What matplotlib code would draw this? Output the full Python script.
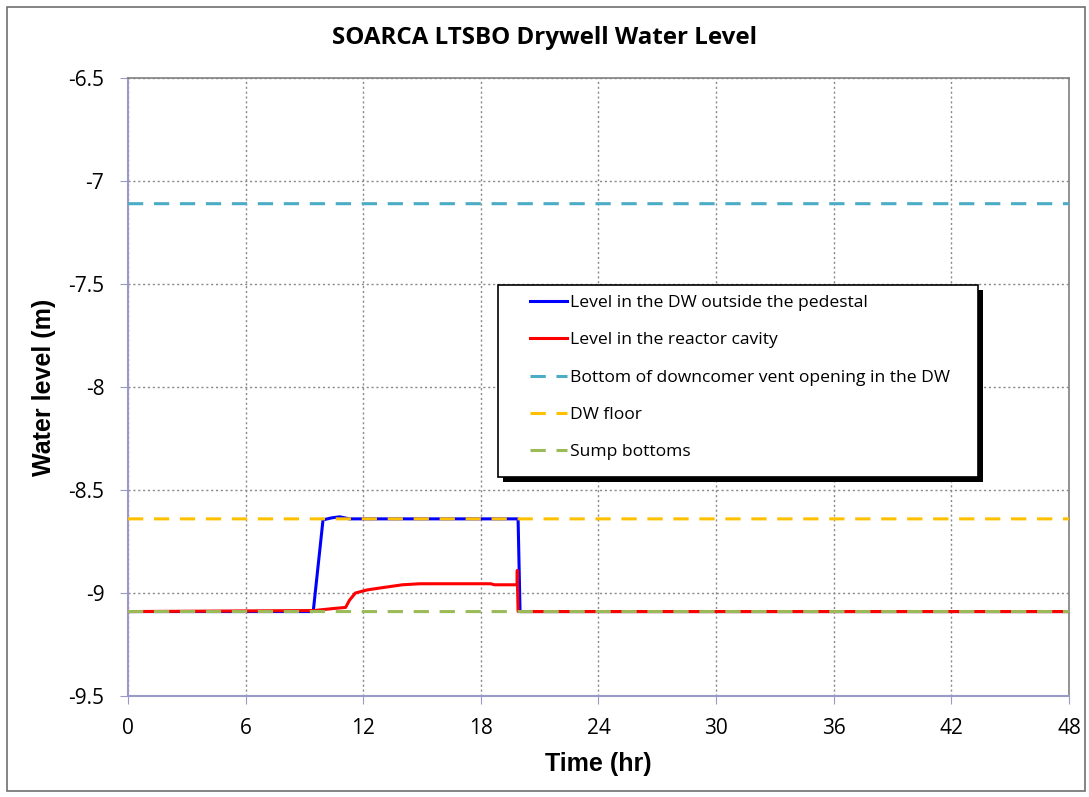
import matplotlib.pyplot as plt
from matplotlib.patches import Rectangle

# ====== DADOS ======
t_dw = [0, 9.45, 9.95, 10.4, 10.8, 11.3, 19.9, 20.0, 48]
lvl_dw = [-9.09, -9.09, -8.645, -8.635, -8.63, -8.64, -8.64, -9.09, -9.09]

t_cav = [0, 9.5, 10.5, 11.1, 11.3, 11.6, 12.2, 12.9, 14.0, 14.9, 18.5, 18.7, 19.85, 19.86, 19.87, 19.9, 48]
lvl_cav = [-9.09, -9.085, -9.075, -9.07, -9.035, -9.0, -8.985, -8.975, -8.96, -8.955, -8.955, -8.96, -8.96, -8.89, -8.96, -9.09, -9.09]

vent_level = -7.11
floor_level = -8.64
sump_level = -9.09

x_ticks = [0, 6, 12, 18, 24, 30, 36, 42, 48]
y_ticks = [-9.5, -9, -8.5, -8, -7.5, -7, -6.5]
y_labels = ["-9.5", "-9", "-8.5", "-8", "-7.5", "-7", "-6.5"]

# ====== FIGURA ======
plt.rcParams["font.family"] = ["Open Sans", "DejaVu Sans"]
fig = plt.figure(figsize=(10.89, 7.97), dpi=100)
ax = fig.add_axes([0.1175, 0.1267, 0.8641, 0.7754])

fig.patches.append(Rectangle((0.006, 0.008), 0.99, 0.983, transform=fig.transFigure,
                             fill=False, edgecolor="#707070", linewidth=1.2))

ax.plot(t_dw, lvl_dw, color="#0000ff", linewidth=2.2, label="Level in the DW outside the pedestal",
        zorder=3, snap=False)
ax.plot(t_cav, lvl_cav, color="#ff0000", linewidth=2.2, label="Level in the reactor cavity",
        zorder=4, snap=False)
ax.plot([0, 48], [vent_level] * 2, color="#4bacc6", linewidth=2.2, dashes=(5, 3.5),
        label="Bottom of downcomer vent opening in the DW", zorder=5, snap=False)
ax.plot([0, 48], [floor_level] * 2, color="#ffc000", linewidth=2.2, dashes=(5, 3.5),
        label="DW floor", zorder=5, snap=False)
ax.plot([0, 48], [sump_level] * 2, color="#9bbb59", linewidth=2.2, dashes=(5, 3.5),
        label="Sump bottoms", zorder=5, snap=False)

ax.set_xlim(0, 48)
ax.set_ylim(-9.5, -6.5)
ax.set_xticks(x_ticks)
ax.set_yticks(y_ticks)
ax.set_yticklabels(y_labels)
ax.tick_params(axis="both", labelsize=15, direction="out", length=6, color="#9a9ac8")
ax.tick_params(axis="x", pad=10)
ax.tick_params(axis="y", pad=11)
ax.grid(True, color="#888888", linestyle=(0, (1.5, 2)), linewidth=1)

for s in ["left", "bottom"]:
    ax.spines[s].set_color("#9a9ac8")
    ax.spines[s].set_linewidth(1.5)
for s in ["top", "right"]:
    ax.spines[s].set_color("#808080")
    ax.spines[s].set_linewidth(1.2)

ax.set_xlabel("Time (hr)", fontsize=18, fontweight="bold", family="Liberation Sans")
ax.xaxis.set_label_coords(0.5, -0.091)
ax.set_ylabel("Water level (m)", fontsize=18, fontweight="bold", family="Liberation Sans")
ax.yaxis.set_label_coords(-0.077, 0.5)
fig.text(0.5, 0.952, "SOARCA LTSBO Drywell Water Level", ha="center", va="center",
         fontsize=17.4, fontweight="bold")

# caixa da legenda com sombra
x0, x1 = 0.3932, 0.9033
y0, y1 = 0.3544, 0.6650
ax.add_patch(Rectangle((x0 + 0.005, y0 - 0.008), x1 - x0, y1 - y0, transform=ax.transAxes,
                       facecolor="black", edgecolor="none", zorder=9, clip_on=False))
ax.add_patch(Rectangle((x0, y0), x1 - x0, y1 - y0, transform=ax.transAxes,
                       facecolor="white", edgecolor="black", linewidth=1.2, zorder=9.5, clip_on=False))

leg = ax.legend(loc="upper left", bbox_to_anchor=(0.427, 0.649), fontsize=12.6, frameon=False,
                handlelength=2.1, handletextpad=0.2, labelspacing=1.2, borderpad=0, borderaxespad=0)
leg.set_zorder(10)

plt.savefig("out.png", dpi=100)
plt.close()
